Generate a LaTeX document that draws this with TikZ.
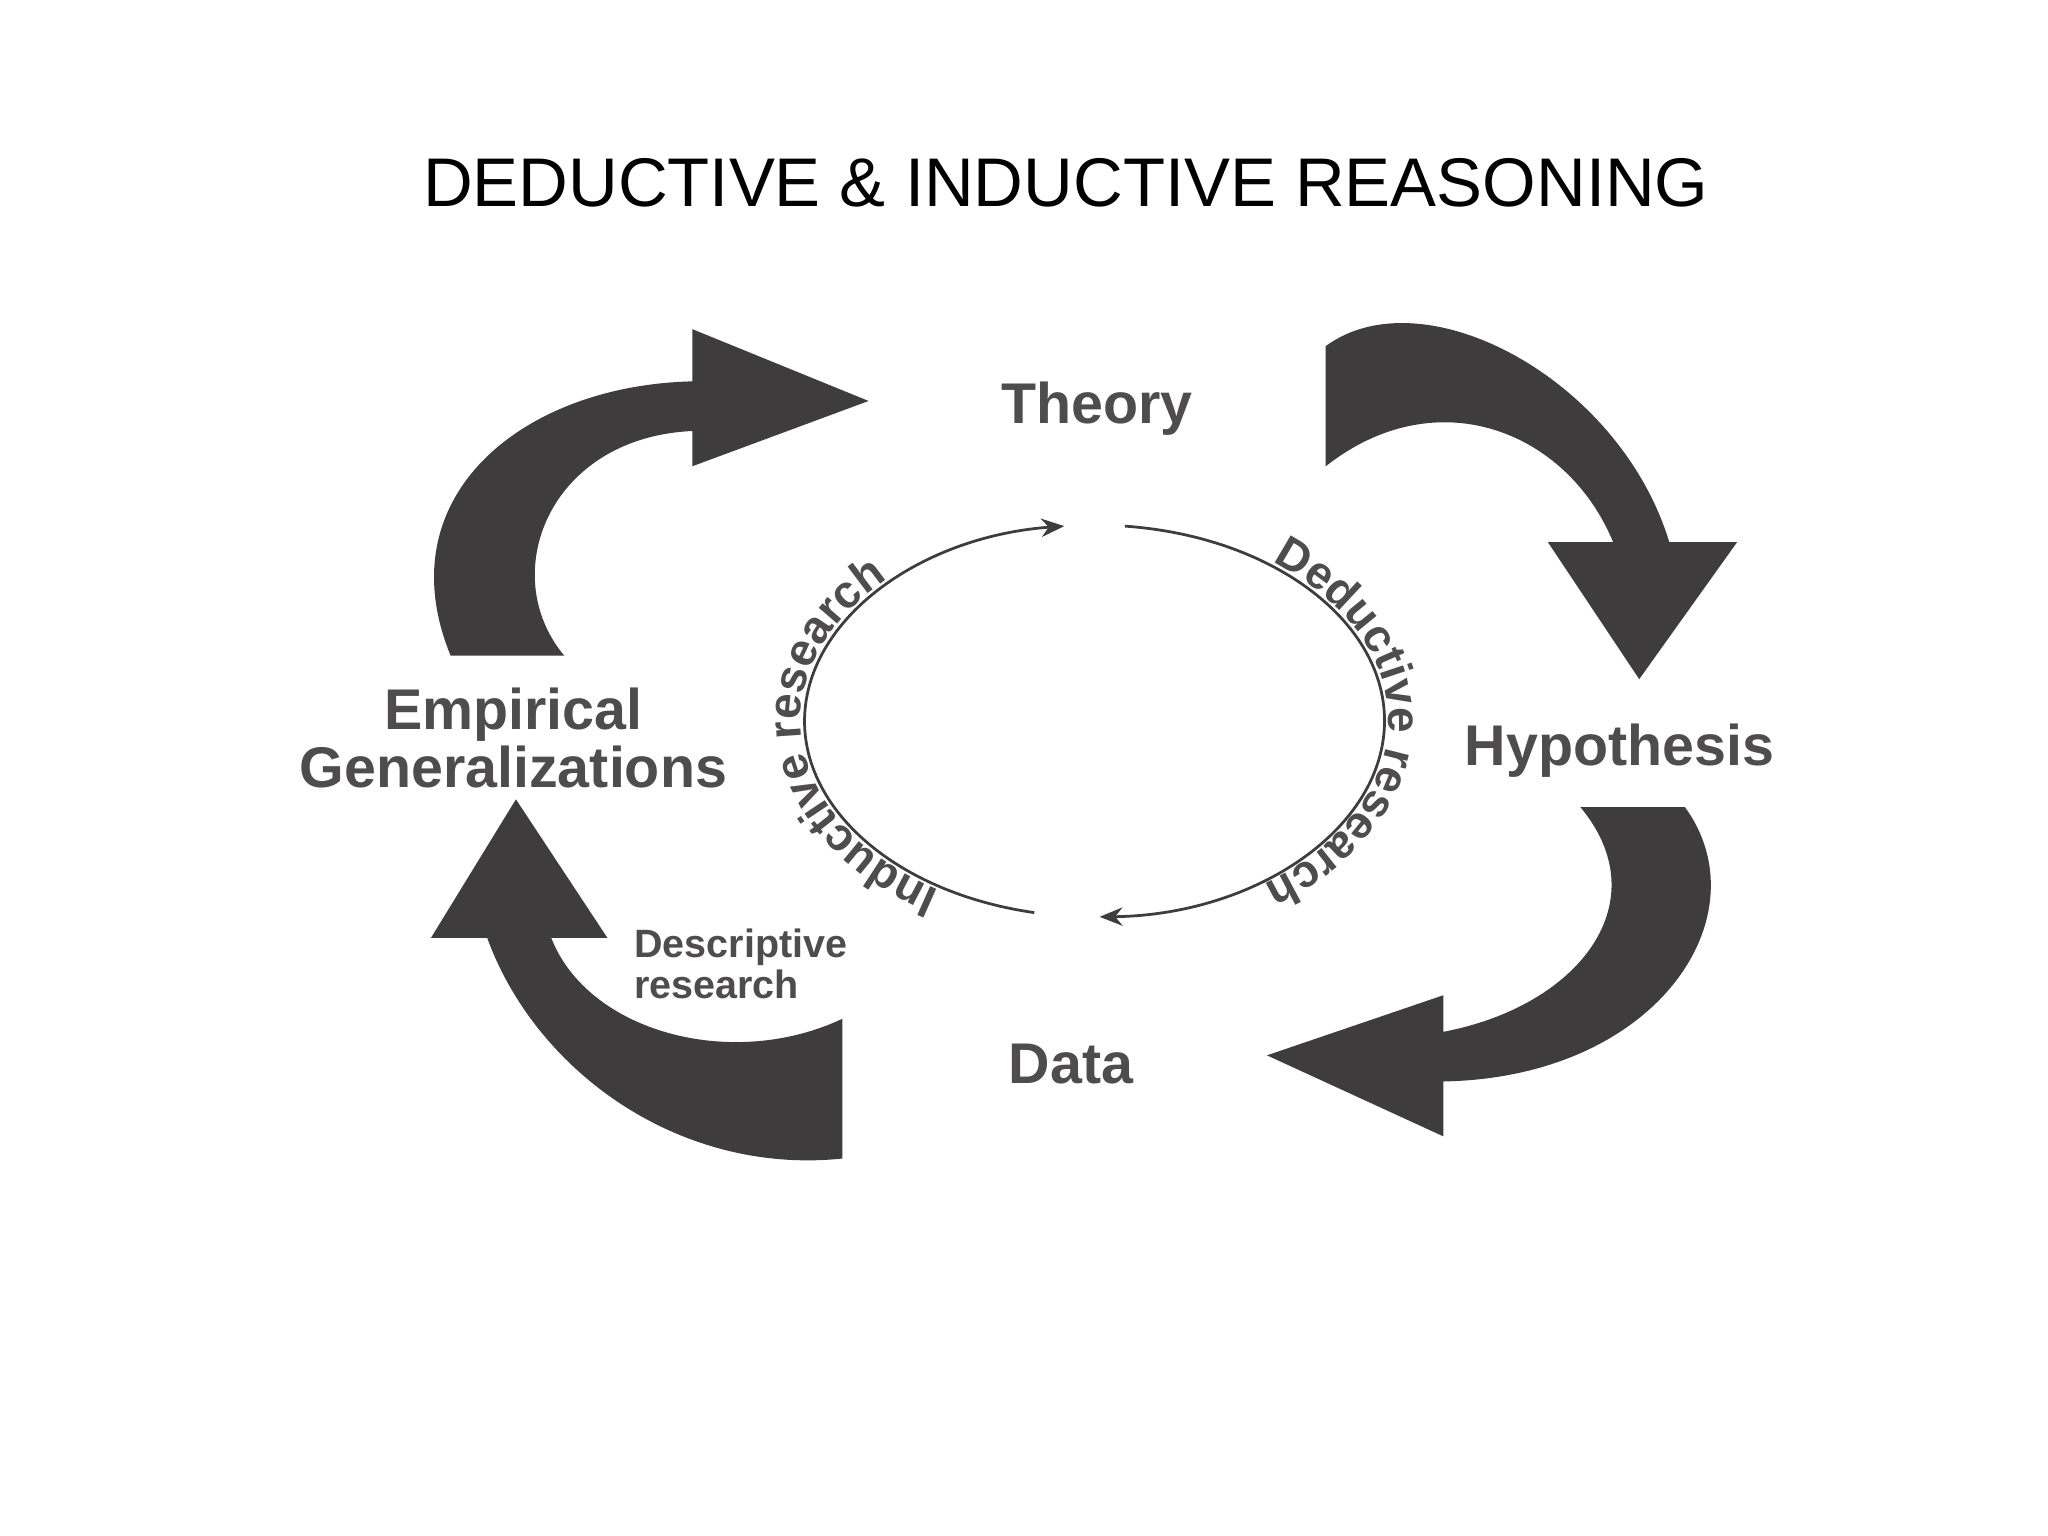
\documentclass[tikz,border=0pt]{standalone}
\usepackage{fontspec}
\setmainfont{Liberation Sans}
\usetikzlibrary{decorations.text,arrows.meta}
\definecolor{arr}{HTML}{3E3C3C}
\definecolor{lab}{HTML}{4E4C4C}
\tikzset{
  bigarrow/.style={fill=arr,draw=none},
  biglabel/.style={font=\fontsize{12.5}{12.5}\selectfont\bfseries,text=lab,align=center,inner sep=0pt},
  smalllabel/.style={font=\fontsize{8.6}{9}\selectfont\bfseries,text=lab,align=left,inner sep=0pt},
  cyc/.style={draw=arr,line width=0.6pt,-{Stealth[length=5pt,width=4pt]}},
}
\begin{document}
\begin{tikzpicture}
\useasboundingbox (0,0) rectangle (15.68,-11.76);
\fill[white] (0,0) rectangle (15.68,-11.76);
\node[font=\fontsize{15}{16}\selectfont, inner sep=0pt] (title) at (8.16,-1.40) {DEDUCTIVE \& INDUCTIVE REASONING};

% labels
\node[biglabel] (theory) at (8.40,-3.13) {Theory};
\node[biglabel] (hyp) at (12.40,-5.75) {Hypothesis};
\node[biglabel] (emp) at (3.93,-5.65) {Empirical\\Generalizations};
\node[biglabel] (data) at (8.20,-8.15) {Data};
\node[smalllabel,anchor=west] (desc) at (4.85,-7.38) {Descriptive\\research};

% big arrows
\path[bigarrow] (3.45,-5.02) .. controls (2.95,-3.80) and (4.00,-2.95) .. (5.30,-2.92)
  -- (5.30,-2.52) -- (6.65,-3.07) -- (5.30,-3.57) -- (5.30,-3.30)
  .. controls (4.20,-3.35) and (3.80,-4.40) .. (4.32,-5.02) -- cycle;
\path[bigarrow] (10.15,-2.65) .. controls (10.90,-2.10) and (12.40,-2.90) .. (12.78,-4.15)
  -- (13.30,-4.15) -- (12.55,-5.20) -- (11.85,-4.15) -- (12.35,-4.15)
  .. controls (12.00,-3.30) and (11.00,-2.90) .. (10.15,-3.57) -- cycle;
\path[bigarrow] (12.90,-6.18) .. controls (13.50,-7.00) and (12.70,-8.25) .. (11.05,-8.28)
  -- (11.05,-8.70) -- (9.70,-8.08) -- (11.05,-7.62) -- (11.05,-7.90)
  .. controls (12.10,-7.70) and (12.70,-6.90) .. (12.10,-6.18) -- cycle;
\path[bigarrow] (6.45,-8.87) .. controls (5.20,-9.00) and (4.10,-8.20) .. (3.73,-7.18)
  -- (3.30,-7.18) -- (3.95,-6.12) -- (4.65,-7.18) -- (4.22,-7.18)
  .. controls (4.50,-7.90) and (5.60,-8.20) .. (6.45,-7.80) -- cycle;

% inner cycle
\coordinate (c) at (8.38,-5.52);
\draw[cyc] (c) ++(258:2.22 and 1.50) arc[start angle=258, end angle=96, x radius=2.22, y radius=1.50] coordinate (tl);
\draw[cyc] (c) ++(84:2.22 and 1.50) arc[start angle=84, end angle=-89, x radius=2.22, y radius=1.50] coordinate (br);

\path[decorate,decoration={text along path,text align=center,
  text={|\fontsize{10}{10}\selectfont\bfseries\color{lab}|Inductive research}}]
  (c) ++(250:2.25 and 1.53) arc[start angle=250, end angle=122, x radius=2.25, y radius=1.53];
\path[decorate,decoration={text along path,text align=center,
  text={|\fontsize{10}{10}\selectfont\bfseries\color{lab}|Deductive research}}]
  (c) ++(64:2.25 and 1.53) arc[start angle=64, end angle=-66, x radius=2.25, y radius=1.53];
\end{tikzpicture}
\end{document}
